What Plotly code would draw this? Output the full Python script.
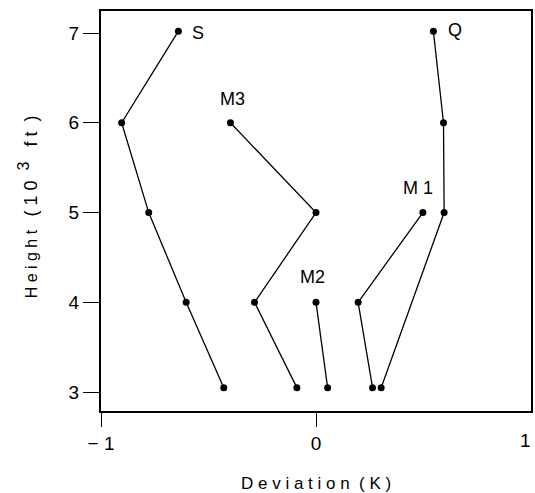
import plotly.graph_objects as go

# Height levels (10^3 ft)
heights_S = [7.02, 6, 5, 4, 3.05]
dev_S = [-0.64, -0.904, -0.778, -0.604, -0.429]

heights_M3 = [6, 5, 4, 3.05]
dev_M3 = [-0.398, 0.0, -0.286, -0.089]

heights_M2 = [4, 3.05]
dev_M2 = [0.0, 0.054]

heights_M1 = [5, 4, 3.05]
dev_M1 = [0.497, 0.196, 0.263]

heights_Q = [7.02, 6, 5, 3.05]
dev_Q = [0.546, 0.593, 0.596, 0.303]

label_x = [-0.548, -0.39, -0.018, 0.476, 0.646]
label_y = [7.0, 6.265, 4.285, 5.27, 7.03]
label_text = ["S", "M3", "M2", "M\u00a01", "Q"]

x_tickvals = [-1, 0]
x_ticktext = ["\u2212 1", "0"]
y_tickvals = [3, 4, 5, 6, 7]

FONT = "Liberation Sans, Arial, Helvetica, sans-serif"
NB = "\u00a0"

def spaced(s):
    return NB.join(list(s))

fig = go.Figure()
for xs, ys, nm in [(dev_S, heights_S, "S"), (dev_M3, heights_M3, "M3"),
                   (dev_M2, heights_M2, "M2"), (dev_M1, heights_M1, "M1"),
                   (dev_Q, heights_Q, "Q")]:
    fig.add_trace(go.Scatter(
        x=xs, y=ys, mode="lines+markers", name=nm,
        line=dict(color="black", width=1.3),
        marker=dict(color="black", size=7),
        showlegend=False,
    ))

for t, lx, ly in zip(label_text, label_x, label_y):
    fig.add_annotation(x=lx, y=ly, text=t, showarrow=False,
                       xanchor="center", yanchor="middle",
                       font=dict(family=FONT, size=18, color="black"))

# tick label "1" at the right edge (kept fully inside the page)
fig.add_annotation(x=1, yref="paper", y=-0.073, text="1", showarrow=False,
                   xanchor="right", xshift=2, yanchor="middle",
                   font=dict(family=FONT, size=19, color="black"))

fig.add_annotation(xref="paper", yref="paper", x=0.5, y=-0.18,
                   text=spaced("Deviation") + NB * 2 + spaced("(K)"),
                   showarrow=False, xanchor="center", yanchor="middle",
                   font=dict(family=FONT, size=17, color="black"))

ytitle = (spaced("Height") + NB * 3 +
          "<span style='font-size:18px'>(" + NB + "1" + NB + "0" + NB * 2 +
          "<sup><span style='font-size:16px'>3</span></sup>" + NB * 3 + "f" + NB + "t" + NB * 2 + ")</span>")
fig.add_annotation(xref="paper", yref="paper", x=-0.169, y=0.51,
                   text=ytitle,
                   textangle=-90, showarrow=False, xanchor="center", yanchor="middle",
                   font=dict(family=FONT, size=16, color="black"))

fig.update_xaxes(range=[-1, 1], tickvals=x_tickvals, ticktext=x_ticktext,
                 showgrid=False, zeroline=False, showline=True, mirror=True,
                 linecolor="black", linewidth=2, ticks="outside", ticklen=14,
                 tickwidth=1.3, tickcolor="black",
                 tickfont=dict(family=FONT, size=19, color="black"))
fig.update_yaxes(range=[2.79, 7.245], tickvals=y_tickvals,
                 showgrid=False, zeroline=False, showline=True, mirror=True,
                 linecolor="black", linewidth=2, ticks="outside", ticklen=16,
                 tickwidth=1.3, tickcolor="black",
                 tickfont=dict(family=FONT, size=19, color="black"))

fig.update_layout(width=535, height=493,
                  margin=dict(l=101, r=2, t=11, b=82),
                  paper_bgcolor="white", plot_bgcolor="white")

fig.write_html("out.html")
